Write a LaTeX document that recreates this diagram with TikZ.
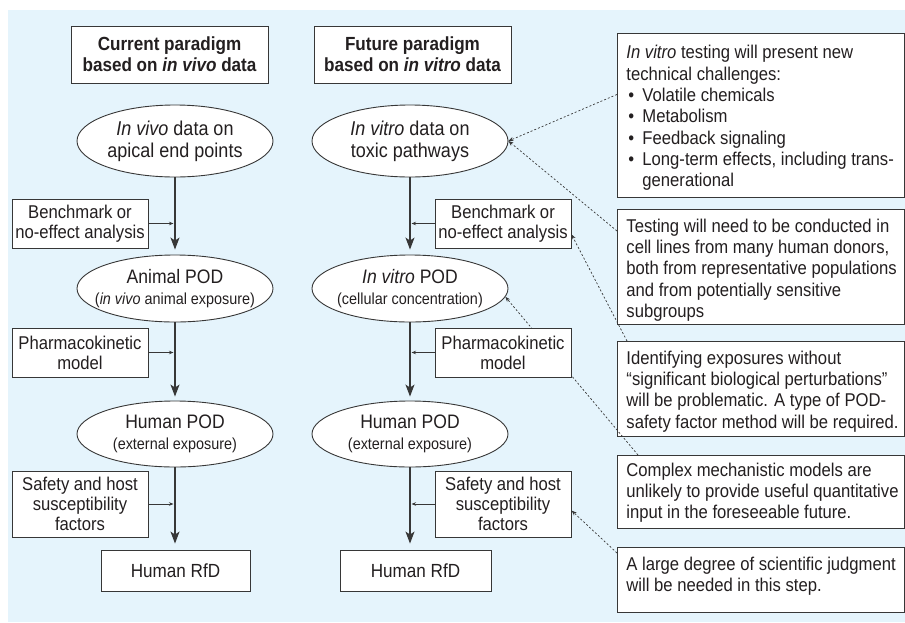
\documentclass[tikz,border=0pt]{standalone}
\usepackage{fontspec}
\setmainfont{Liberation Sans}[FakeStretch=0.9]
\usetikzlibrary{arrows.meta,shapes.geometric}

\definecolor{bgblue}{RGB}{229,244,252}
\definecolor{ink}{RGB}{35,31,32}
\definecolor{linegray}{RGB}{55,55,55}

\newcommand{\notebox}[3][0pt]{\parbox[c][#2][t]{269pt}{\vspace*{#1}\begin{tabular}[t]{@{}l@{}}#3\end{tabular}}}
\newcommand{\blt}{\hspace*{2pt}\makebox[14pt][l]{\textbullet}}

\tikzset{
  head/.style={draw=linegray, line width=0.9pt, fill=white, text=ink, minimum width=197pt, minimum height=57pt,
    align=center, font=\bfseries\fontsize{19}{21.3}\selectfont},
  oval/.style={draw=linegray, line width=0.9pt, fill=white, text=ink, ellipse, inner xsep=-15pt, inner ysep=-4pt,
    minimum width=196pt, align=center, font=\fontsize{20}{22}\selectfont},
  stepbox/.style={draw=linegray, line width=0.9pt, fill=white, text=ink, minimum width=136pt, inner sep=2pt,
    align=center, font=\fontsize{18.5}{20}\selectfont},
  endbox/.style={draw=linegray, line width=0.9pt, fill=white, text=ink, minimum height=41pt,
    font=\fontsize{19}{21}\selectfont},
  note/.style={draw=linegray, line width=0.9pt, fill=white, text=ink, anchor=north west, inner xsep=9pt, inner ysep=8pt,
    font=\fontsize{18.5}{21.3}\selectfont},
  flow/.style={draw=linegray, line width=1.3pt, -{Stealth[length=12pt, width=9pt, inset=3pt]}},
  feed/.style={draw=linegray, line width=0.7pt, -{Stealth[length=4.5pt, width=3.5pt]}},
  link/.style={draw=linegray, line width=0.7pt, dash pattern=on 2pt off 2pt, -{Stealth[length=5pt, width=4pt]}}
}

\begin{document}
\begin{tikzpicture}[x=1pt, y=-1pt]

\useasboundingbox (0,0) rectangle (905,622);
\fill[bgblue] (8,10) rectangle (905,622);

% headings
\node[head] (cur) at (169.5,54.5) {Current paradigm\\based on \textit{in vivo} data};
\node[head] (fut) at (412.5,54.5) {Future paradigm\\based on \textit{in vitro} data};

% notes
\node[note] (n1) at (617,33) {\notebox[2.5pt]{148pt}{\textit{In vitro} testing will present new\\technical challenges:\\
  \blt Volatile chemicals\\\blt Metabolism\\\blt Feedback signaling\\
  \blt Long-term effects, including trans-\\\hspace*{16pt}generational}};
\node[note] (n2) at (617,209) {\notebox{99pt}{Testing will need to be conducted in\\cell lines from many human donors,\\
  both from representative populations\\and from potentially sensitive\\subgroups}};
\node[note] (n3) at (617,341) {\notebox{79pt}{Identifying exposures without\\“significant biological perturbations”\\
  will be problematic. A type of POD-\\safety factor method will be required.}};
\node[note] (n4) at (617,455) {\notebox[-2pt]{57pt}{Complex mechanistic models are\\unlikely to provide useful quantitative\\
  input in the foreseeable future.}};
\node[note] (n5) at (617,547) {\notebox{49pt}{A large degree of scientific judgment\\will be needed in this step.}};

% current paradigm
\node[oval, minimum height=72pt] (viv) at (175,141) {\textit{In vivo} data on\\apical end points};
\node[oval, minimum height=67pt, font=\fontsize{19.5}{21}\selectfont] (apod) at (175,288.5)
  {Animal POD\\{\fontsize{16}{18}\selectfont(\textit{in vivo} animal exposure)}};
\node[oval, minimum height=66pt, font=\fontsize{19.5}{21}\selectfont] (hpod1) at (175,434)
  {Human POD\\{\fontsize{16}{18}\selectfont(external exposure)}};
\node[endbox, minimum width=149pt] (rfd1) at (175.5,570.5) {Human RfD};

\node[stepbox, minimum height=49pt] (bm1) at (80,223.5) {Benchmark or\\no-effect analysis};
\node[stepbox, minimum height=49pt] (pk1) at (80,352.5) {Pharmacokinetic\\model};
\node[stepbox, minimum height=66pt] (sf1) at (80,504) {Safety and host\\susceptibility\\factors};

\draw[flow, shorten >=5pt] (viv.south) -- (apod.north);
\draw[flow, shorten >=4pt] (apod.south) -- (hpod1.north);
\draw[flow, shorten >=6pt] (hpod1.south) -- (hpod1.south |- rfd1.north);
\draw[feed, shorten >=1.5pt] (bm1.east) -- (bm1.east -| viv.south);
\draw[feed, shorten >=1.5pt] (pk1.east) -- (pk1.east -| viv.south);
\draw[feed, shorten >=1.5pt] (sf1.east) -- (sf1.east -| viv.south);

% future paradigm
\node[oval, minimum height=72pt] (vit) at (410,141) {\textit{In vitro} data on\\toxic pathways};
\node[oval, minimum height=67pt, font=\fontsize{19.5}{21}\selectfont] (vpod) at (410,288.5)
  {\textit{In vitro} POD\\{\fontsize{16}{18}\selectfont(cellular concentration)}};
\node[oval, minimum height=66pt, font=\fontsize{19.5}{21}\selectfont] (hpod2) at (410,434)
  {Human POD\\{\fontsize{16}{18}\selectfont(external exposure)}};
\node[endbox, minimum width=151pt] (rfd2) at (415.5,570.5) {Human RfD};

% dotted links run under the step boxes
\coordinate (bmtip) at (571,233.5);
\coordinate (sftip) at (571,510);
\draw[link] ([yshift=21pt]n1.west) -- (vit.east);
\draw[link] ([yshift=-22pt]n2.north west) -- (vit.east);
\draw[link, shorten >=1pt] ([xshift=10pt]n3.north west) -- (bmtip);
\draw[link] ([xshift=21pt]n4.north west) -- (vpod.-5);
\draw[link, shorten >=1pt] ([yshift=-6pt]n5.north west) -- (sftip);

\node[stepbox, minimum height=49pt] (bm2) at (503,223.5) {Benchmark or\\no-effect analysis};
\node[stepbox, minimum height=49pt] (pk2) at (503,352.5) {Pharmacokinetic\\model};
\node[stepbox, minimum height=66pt] (sf2) at (503,504) {Safety and host\\susceptibility\\factors};

\draw[flow, shorten >=5pt] (vit.south) -- (vpod.north);
\draw[flow, shorten >=4pt] (vpod.south) -- (hpod2.north);
\draw[flow, shorten >=6pt] (hpod2.south) -- (hpod2.south |- rfd2.north);
\draw[feed, shorten >=1.5pt] (bm2.west) -- (bm2.west -| vit.south);
\draw[feed, shorten >=1.5pt] (pk2.west) -- (pk2.west -| vit.south);
\draw[feed, shorten >=1.5pt] (sf2.west) -- (sf2.west -| vit.south);

\end{tikzpicture}
\end{document}
